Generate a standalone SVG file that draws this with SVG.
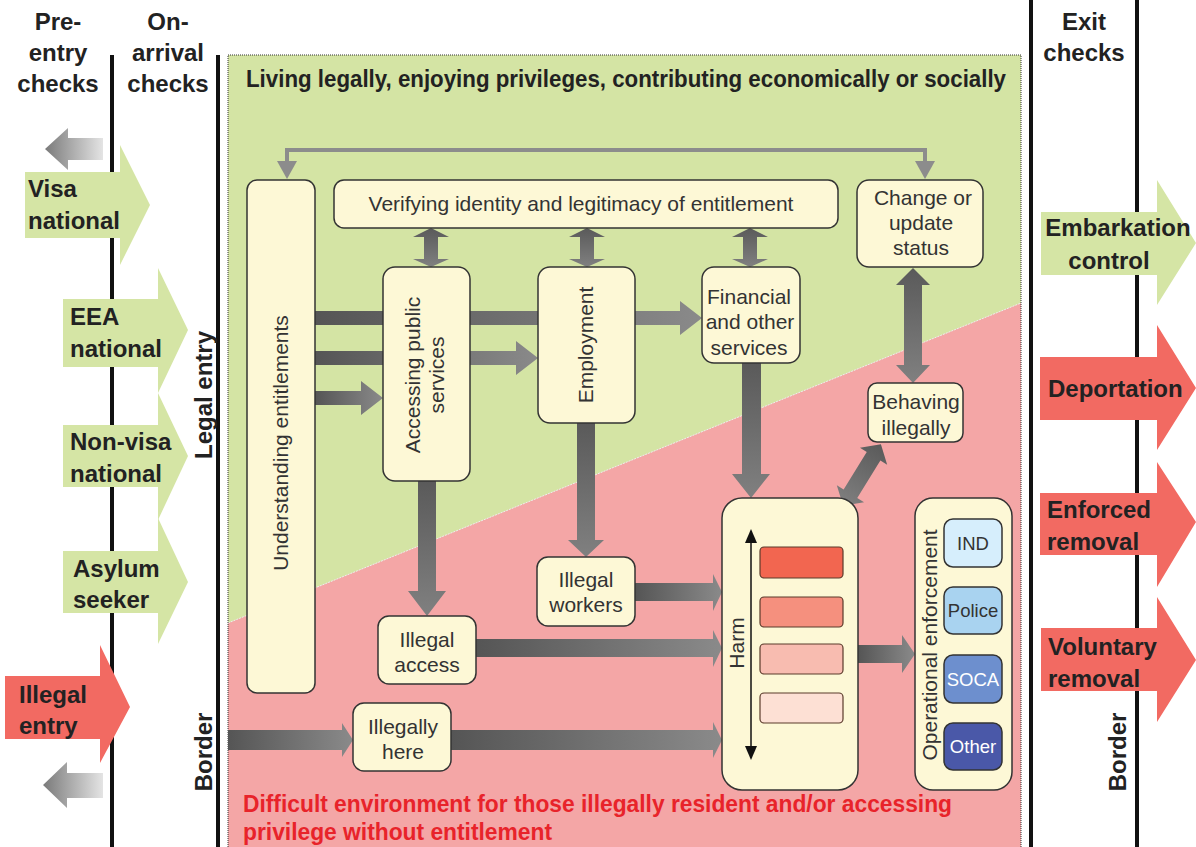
<svg xmlns="http://www.w3.org/2000/svg" width="1196" height="847" viewBox="0 0 1196 847">
<defs>
<linearGradient id="gh" x1="0" y1="0" x2="1" y2="0"><stop offset="0" stop-color="#555"/><stop offset="1" stop-color="#8a8a8a"/></linearGradient>
<linearGradient id="gv" x1="0" y1="0" x2="0" y2="1"><stop offset="0" stop-color="#5a5a5a"/><stop offset="1" stop-color="#808080"/></linearGradient>
<linearGradient id="gl" x1="0" y1="0" x2="1" y2="0"><stop offset="0" stop-color="#7a7a7a"/><stop offset="1" stop-color="#e4e4e4"/></linearGradient>
<style>
.vl{stroke:#111;stroke-width:4}
.hd{font-family:"Liberation Sans",Arial,sans-serif;font-weight:bold;font-size:24px;fill:#222}
.box{fill:#fdf8d6;stroke:#333;stroke-width:1.5}
.t{font-family:"Liberation Sans",Arial,sans-serif;font-size:21px;fill:#333;text-anchor:middle}
.s{font-size:18.5px}
.ga{fill:#d5e5a5}
.ra{fill:#f26a62}
.ah{fill:url(#gh)}
.av{fill:url(#gv)}
.bar{stroke:#5a3a2a;stroke-width:1.2}
</style>
</defs>

<!-- background panels -->
<g id="panel">
<rect x="228" y="55" width="793" height="792" fill="#d4e4a4"/>
<polygon points="228,623 1021,303 1021,847 228,847" fill="#f4a6a6"/>
<line x1="228" y1="623" x2="1021" y2="303" stroke="#eee" stroke-width="1" stroke-dasharray="2 1"/>
<path d="M228,847 V55 H1021 V847" fill="none" stroke="#333" stroke-width="1" stroke-dasharray="1 1"/>
<text x="246" y="87" class="hd" font-size="22" textLength="760" lengthAdjust="spacingAndGlyphs">Living legally, enjoying privileges, contributing economically or socially</text>
<text x="243" y="812" class="hd" font-size="21" style="fill:#e8232a" textLength="709" lengthAdjust="spacingAndGlyphs">Difficult environment for those illegally resident and/or accessing</text>
<text x="243" y="840" class="hd" font-size="21" style="fill:#e8232a" textLength="309" lengthAdjust="spacingAndGlyphs">privilege without entitlement</text>
</g>

<!-- border lines -->
<g id="lines">
<line class="vl" x1="112" y1="55" x2="112" y2="847"/>
<line class="vl" x1="218" y1="55" x2="218" y2="847"/>
<line class="vl" x1="1031" y1="0" x2="1031" y2="847"/>
<line class="vl" x1="1137" y1="0" x2="1137" y2="847"/>
</g>

<!-- headers -->
<g id="headers">
<text class="hd" text-anchor="middle" x="58" y="30">Pre-</text>
<text class="hd" text-anchor="middle" x="58" y="61">entry</text>
<text class="hd" text-anchor="middle" x="58" y="92">checks</text>
<text class="hd" text-anchor="middle" x="168" y="30">On-</text>
<text class="hd" text-anchor="middle" x="168" y="61">arrival</text>
<text class="hd" text-anchor="middle" x="168" y="92">checks</text>
<text class="hd" text-anchor="middle" x="1084" y="30">Exit</text>
<text class="hd" text-anchor="middle" x="1084" y="61">checks</text>
<text class="hd" text-anchor="middle" transform="translate(212,395) rotate(-90)">Legal entry</text>
<text class="hd" text-anchor="middle" transform="translate(212,752) rotate(-90)">Border</text>
<text class="hd" text-anchor="middle" transform="translate(1126,752) rotate(-90)">Border</text>
</g>

<!-- left entry arrows -->
<g id="visa">
<polygon class="ga" points="25,172 120,172 120,145 150,205 120,265 120,238 25,238"/>
<text class="hd" x="28" y="197">Visa</text><text class="hd" x="28" y="229">national</text>
</g>
<g id="eea">
<polygon class="ga" points="63,299 158,299 158,268 188,330 158,393 158,367 63,367"/>
<text class="hd" x="70" y="325">EEA</text><text class="hd" x="70" y="357">national</text>
</g>
<g id="nonvisa">
<polygon class="ga" points="63,425 158,425 158,393 188,456 158,520 158,487 63,487"/>
<text class="hd" x="70" y="450">Non-visa</text><text class="hd" x="70" y="482">national</text>
</g>
<g id="asylum">
<polygon class="ga" points="63,551 158,551 158,518 188,582 158,644 158,613 63,613"/>
<text class="hd" x="73" y="577">Asylum</text><text class="hd" x="73" y="608">seeker</text>
</g>
<g id="illegalentry">
<polygon class="ra" points="5,676 100,676 100,645 130,707 100,763 100,739 5,739"/>
<text class="hd" x="19" y="703">Illegal</text><text class="hd" x="19" y="734">entry</text>
</g>
<g id="back-arrows">
<polygon fill="url(#gl)" points="45,149 68,128 68,138 103,138 103,160 68,160 68,170"/>
<polygon fill="url(#gl)" points="43,785 67,762 67,773 103,773 103,798 67,798 67,808"/>
</g>

<!-- right exit arrows -->
<g id="embarkation">
<polygon class="ga" points="1041,212 1157,212 1157,180 1196,243 1157,305 1157,275 1041,275"/>
<text class="hd" text-anchor="middle" x="1118" y="236">Embarkation</text><text class="hd" text-anchor="middle" x="1109" y="269">control</text>
</g>
<g id="deportation">
<polygon class="ra" points="1040,357 1157,357 1157,325 1196,388 1157,450 1157,420 1040,420"/>
<text class="hd" x="1048" y="397">Deportation</text>
</g>
<g id="enforced">
<polygon class="ra" points="1040,493 1157,493 1157,462 1196,522 1157,587 1157,555 1040,555"/>
<text class="hd" x="1047" y="518">Enforced</text><text class="hd" x="1047" y="550">removal</text>
</g>
<g id="voluntary">
<polygon class="ra" points="1041,628 1157,628 1157,597 1196,660 1157,722 1157,691 1041,691"/>
<text class="hd" x="1048" y="655">Voluntary</text><text class="hd" x="1048" y="687">removal</text>
</g>

<!-- connectors -->
<g id="connectors">
<path d="M287,164 V150 H925 V164" fill="none" stroke="#8c8c8c" stroke-width="4"/>
<polygon fill="#8c8c8c" points="277,161 297,161 287,179"/>
<polygon fill="#8c8c8c" points="915,161 935,161 925,179"/>
<polygon class="av" points="431,228 449,237 438,237 438,259 449,259 431,267 413,259 424,259 424,237 413,237"/>
<polygon class="av" points="587,228 605,237 594,237 594,259 605,259 587,267 569,259 580,259 580,237 569,237"/>
<polygon class="av" points="750,228 768,237 757,237 757,259 768,259 750,267 732,259 743,259 743,237 732,237"/>
<polygon class="av" points="913,268 930,285 922,285 922,365 930,365 913,383 896,365 904,365 904,285 896,285"/>
<path class="ah" d="M315,311 H680 V301 L702,318 L680,335 V325 H315 Z"/>
<path class="ah" d="M315,351 H516 V341 L538,358 L516,375 V365 H315 Z"/>
<path class="ah" d="M315,391 H361 V381 L383,398 L361,415 V405 H315 Z"/>
<path class="av" d="M418,481 H436 V591 H446 L427,616 L408,591 H418 Z"/>
<path class="av" d="M577,423 H595 V540 H604 L586,557 L568,540 H577 Z"/>
<path class="av" d="M742,363 H761 V474 H770 L751,498 L732,474 H742 Z"/>
<g transform="translate(862,475) rotate(31.7)">
<polygon class="av" points="0,-36 16,-22 8,-22 8,22 16,22 0,36 -16,22 -8,22 -8,-22 -16,-22"/>
</g>
<path class="ah" d="M635,583 H713 V574 L722,592 L713,611 V601 H635 Z"/>
<path class="ah" d="M476,639 H713 V630 L722,648 L713,667 V657 H476 Z"/>
<path class="ah" d="M228,730 H342 V723 L353,740 L342,757 V750 H228 Z"/>
<path class="ah" d="M451,730 H713 V722 L722,740 L713,758 V750 H451 Z"/>
<path class="ah" d="M858,645 H902 V635 L915,654 L902,673 V663 H858 Z"/>
</g>

<!-- nodes -->
<g id="understanding">
<rect class="box" x="247" y="180" width="68" height="513" rx="10"/>
<text class="t" transform="translate(288,443) rotate(-90)">Understanding entitlements</text>
</g>
<g id="verifying">
<rect class="box" x="334" y="180" width="504" height="48" rx="10"/>
<text class="t" x="581" y="211">Verifying identity and legitimacy of entitlement</text>
</g>
<g id="change">
<rect class="box" x="857" y="180" width="126" height="87" rx="12"/>
<text class="t" x="923" y="205">Change or</text>
<text class="t" x="921" y="230">update</text>
<text class="t" x="921" y="255">status</text>
</g>
<g id="accessing">
<rect class="box" x="383" y="267" width="87" height="214" rx="12"/>
<text class="t" transform="translate(420,375) rotate(-90)">Accessing public</text>
<text class="t" transform="translate(444,375) rotate(-90)">services</text>
</g>
<g id="employment">
<rect class="box" x="538" y="267" width="97" height="156" rx="12"/>
<text class="t" transform="translate(593,345) rotate(-90)">Employment</text>
</g>
<g id="financial">
<rect class="box" x="702" y="267" width="98" height="96" rx="12"/>
<text class="t" x="749" y="304">Financial</text>
<text class="t" x="750" y="329">and other</text>
<text class="t" x="749" y="355">services</text>
</g>
<g id="behaving">
<rect class="box" x="868" y="383" width="95" height="59" rx="9"/>
<text class="t" x="916" y="409">Behaving</text>
<text class="t" x="916" y="435">illegally</text>
</g>
<g id="illegalworkers">
<rect class="box" x="537" y="557" width="98" height="69" rx="11"/>
<text class="t" x="586" y="587">Illegal</text>
<text class="t" x="586" y="612">workers</text>
</g>
<g id="illegalaccess">
<rect class="box" x="378" y="616" width="98" height="68" rx="11"/>
<text class="t" x="427" y="647">Illegal</text>
<text class="t" x="427" y="672">access</text>
</g>
<g id="illegallyhere">
<rect class="box" x="353" y="703" width="98" height="68" rx="11"/>
<text class="t" x="403" y="734">Illegally</text>
<text class="t" x="403" y="759">here</text>
</g>
<g id="harm">
<rect class="box" x="722" y="498" width="136" height="292" rx="20"/>
<line x1="751" y1="540" x2="751" y2="750" stroke="#111" stroke-width="1.5"/>
<polygon fill="#111" points="751,529 745,543 757,543"/>
<polygon fill="#111" points="751,760 745,746 757,746"/>
<text class="t" transform="translate(744,643) rotate(-90)">Harm</text>
<rect class="bar" x="760" y="547" width="83" height="31" rx="4" fill="#f26650"/>
<rect class="bar" x="760" y="597" width="83" height="30" rx="4" fill="#f5907e"/>
<rect class="bar" x="760" y="644" width="83" height="30" rx="4" fill="#f8bcb0"/>
<rect class="bar" x="760" y="693" width="83" height="30" rx="4" fill="#fde0d4"/>
</g>
<g id="operational">
<rect class="box" x="915" y="498" width="97" height="292" rx="18"/>
<text class="t" transform="translate(937,645) rotate(-90)">Operational enforcement</text>
<rect class="box" x="944" y="519" width="58" height="48" rx="9" style="fill:#d6eefc"/>
<text class="t s" x="973" y="550">IND</text>
<rect class="box" x="944" y="587" width="58" height="47" rx="9" style="fill:#a9d3f0"/>
<text class="t s" x="973" y="617">Police</text>
<rect class="box" x="944" y="655" width="58" height="48" rx="9" style="fill:#6d8fce"/>
<text class="t s" x="973" y="686" style="fill:#fff">SOCA</text>
<rect class="box" x="944" y="723" width="58" height="47" rx="9" style="fill:#4a58a8"/>
<text class="t s" x="973" y="753" style="fill:#fff">Other</text>
</g>
</svg>
